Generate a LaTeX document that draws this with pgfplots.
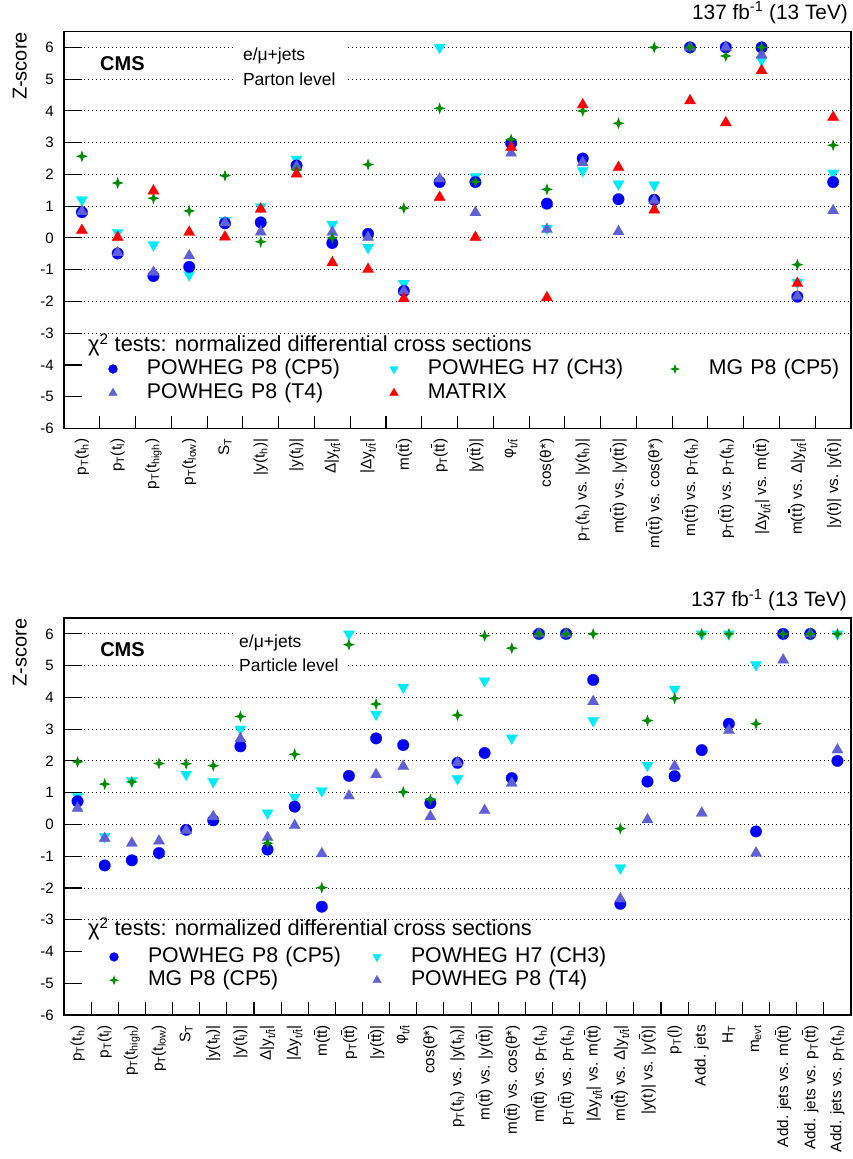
\documentclass[border=0pt]{standalone}
\usepackage{pgfplots}
\usepackage{pgfplotstable}
\pgfplotsset{compat=1.18}
\usepackage{fontspec}
\setmainfont{Liberation Sans}
\definecolor{cmsblue}{RGB}{0,0,250}
\definecolor{cmscyan}{RGB}{0,235,250}
\definecolor{cmsgreen}{RGB}{0,140,0}
\definecolor{cmsred}{RGB}{255,0,0}
\definecolor{cmspurple}{RGB}{95,95,215}
\pgfdeclareplotmark{fstar}{%
 \pgfpathmoveto{\pgfqpoint{0pt}{\pgfplotmarksize}}%
 \pgfpathlineto{\pgfqpoint{0.26\pgfplotmarksize}{0.26\pgfplotmarksize}}%
 \pgfpathlineto{\pgfqpoint{\pgfplotmarksize}{0pt}}%
 \pgfpathlineto{\pgfqpoint{0.26\pgfplotmarksize}{-0.26\pgfplotmarksize}}%
 \pgfpathlineto{\pgfqpoint{0pt}{-\pgfplotmarksize}}%
 \pgfpathlineto{\pgfqpoint{-0.26\pgfplotmarksize}{-0.26\pgfplotmarksize}}%
 \pgfpathlineto{\pgfqpoint{-\pgfplotmarksize}{0pt}}%
 \pgfpathlineto{\pgfqpoint{-0.26\pgfplotmarksize}{0.26\pgfplotmarksize}}%
 \pgfpathclose\pgfusepathqfill}
\newcommand{\sub}[1]{\textsubscript{#1}}
\newcommand{\tb}{\mbox{t\llap{\raisebox{0.8em}{\rule{0.28em}{0.07em}}}}}
\newcommand{\pT}{p\sub{T}}
\newcommand{\ttb}{t\tb}
\newcommand{\ytt}{y\sub{t/\tb}}
\newcommand{\fs}[1]{\fontsize{#1}{#1}\selectfont}
\pgfplotsset{
 sblue/.style={only marks, mark=*, mark size=5.8pt, color=cmsblue, mark options={solid,line width=0.2pt}},
 scyan/.style={only marks, mark=triangle*, mark size=6.5pt, color=cmscyan, mark options={solid,rotate=180,line width=0.2pt}},
 spurple/.style={only marks, mark=triangle*, mark size=6.5pt, color=cmspurple, mark options={solid,line width=0.2pt}},
 sred/.style={only marks, mark=triangle*, mark size=6.5pt, color=cmsred, mark options={solid,line width=0.2pt}},
 sgreen/.style={only marks, mark=fstar, mark size=6pt, color=cmsgreen, mark options={solid}},
 cmsaxis/.style={
  scale only axis, width=787pt, height=397pt,
  ymin=-6, ymax=6.5, ytick={-6,...,6},
  yticklabels={-6,-5,-4,-3,-2,-1,0,1,2,3,4,5,6},
  xtick pos=bottom, ytick pos=left,
  major tick length=18pt, minor tick length=13pt,
  major x tick style={draw=none},
  every tick/.style={black, line width=1.1pt},
  axis line style={line width=1.3pt},
  ymajorgrids, major grid style={black, line width=0.9pt, dash pattern=on 1.3pt off 2.7pt},
  yticklabel style={font=\fs{15}, inner sep=0pt, xshift=-10pt, anchor=east},
  xticklabel style={font=\fs{15.3}, inner sep=0pt, yshift=-10pt, rotate=90, anchor=east},
  legend cell align=left,
  legend image code/.code={\path[draw=none,fill=none] (0pt,-5pt) rectangle (44pt,5pt); \draw[##1] plot coordinates {(10pt,0pt)};},
 }
}
\pgfplotstableread{
x c b p g r
0.5 1.2 0.81 0.83 2.57 0.24
1.5 0.17 -0.49 -0.46 1.73 0.02
2.5 -0.22 -1.2 -1.08 1.25 1.48
3.5 -1.16 -0.91 -0.56 0.85 0.18
4.5 0.55 0.46 0.48 1.96 0.03
5.5 0.98 0.49 0.19 -0.12 0.91
6.5 2.48 2.28 2.25 2.14 2.01
7.5 0.43 -0.16 0.18 0.0 -0.78
8.5 -0.30 0.13 0.02 2.31 -0.99
9.5 -1.43 -1.67 -1.67 0.94 -1.91
10.5 6.0 1.76 1.86 4.08 1.28
11.5 1.93 1.76 0.80 1.77 0.02
12.5 2.95 2.98 2.67 3.1 2.85
13.5 0.30 1.08 0.27 1.53 -1.88
14.5 2.12 2.50 2.37 4.0 4.19
15.5 1.70 1.22 0.20 3.61 2.22
16.5 1.67 1.20 1.18 6.0 0.88
17.5 6.0 6.0 6.0 6.0 4.32
18.5 6.0 6.0 6.0 5.73 3.63
19.5 5.6 6.0 5.76 6.0 5.27
20.5 -1.40 -1.85 -1.83 -0.84 -1.43
21.5 2.04 1.76 0.86 2.92 3.80
}\toptab
\pgfplotstableread{
x c b p g
0.5 0.88 0.73 0.51 1.97
1.5 -0.38 -1.29 -0.44 1.27
2.5 1.38 -1.13 -0.59 1.34
3.5 -0.92 -0.90 -0.52 1.92
4.5 1.58 -0.17 -0.19 1.91
5.5 1.35 0.13 0.25 1.85
6.5 3.0 2.46 2.70 3.40
7.5 0.36 -0.79 -0.41 -0.59
8.5 0.86 0.56 -0.03 2.21
9.5 1.06 -2.59 -0.92 -1.99
10.5 6.0 1.53 0.90 5.66
11.5 3.47 2.71 1.57 3.79
12.5 4.32 2.50 1.83 1.02
13.5 0.72 0.67 0.25 0.78
14.5 1.44 1.94 1.95 3.44
15.5 4.52 2.25 0.44 5.94
16.5 2.72 1.46 1.30 5.55
17.5 6.0 6.0 6.0 6.0
18.5 6.0 6.0 6.0 6.0
19.5 3.27 4.55 3.87 6.0
20.5 -1.37 -2.50 -2.34 -0.13
21.5 1.86 1.35 0.15 3.27
22.5 4.26 1.52 1.83 3.97
23.5 6.0 2.34 0.36 6.0
24.5 6.0 3.17 2.96 6.0
25.5 5.03 -0.22 -0.90 3.17
26.5 6.0 6.0 5.18 6.0
27.5 6.0 6.0 6.0 6.0
28.5 6.0 2.0 2.35 6.0
}\bottab
\begin{document}
\begin{tikzpicture}
\useasboundingbox (0,0) rectangle (853pt,-1159pt);
% ---------------- top panel ----------------
\begin{axis}[cmsaxis, at={(64pt,-428.5pt)}, anchor=south west,
  xmin=0, xmax=22,
  xtick={0.5,1.5,...,21.5}, minor xtick={1,...,21},
  xticklabels={{\pT(t\sub{h})},{\pT(t\sub{l})},{\pT(t\sub{high})},{\pT(t\sub{low})},{S\sub{T}},{|y(t\sub{h})|},{|y(t\sub{l})|},{Δ|\ytt|},{|Δ\ytt|},{m(\ttb)},{\pT(\ttb)},{|y(\ttb)|},{φ\sub{t/\tb}},{cos(θ*)},{\pT(t\sub{h}) vs. |y(t\sub{h})|},{m(\ttb) vs. |y(\ttb)|},{m(\ttb) vs. cos(θ*)},{m(\ttb) vs. \pT(t\sub{h})},{\pT(\ttb) vs. \pT(t\sub{h})},{|Δ\ytt| vs. m(\ttb)},{m(\ttb) vs. Δ|\ytt|},{|y(t)| vs. |y(\tb)|}},
  legend columns=3,
  legend style={at={(axis cs:1.09,-3.796)}, anchor=north west, draw=none, fill=none, inner sep=0pt, outer sep=0pt, font=\fs{21.3}, row sep=3pt, column sep=0pt, nodes={inner sep=0pt, text height=16pt, text depth=5pt, text width=237pt, align=left}},
]
\fill[white] (axis cs:0.55,-3.1) rectangle (axis cs:21.95,-5.55);
\fill[white] (axis cs:4.78,6.30) rectangle (axis cs:7.91,4.60);
\addlegendimage{sblue, mark size=4.5pt}\addlegendentry{POWHEG P8 (CP5)}
\addlegendimage{scyan, mark size=5pt}\addlegendentry{POWHEG H7 (CH3)}
\addlegendimage{sgreen, mark size=5pt}\addlegendentry{MG P8 (CP5)}
\addlegendimage{spurple, mark size=5pt}\addlegendentry{POWHEG P8 (T4)}
\addlegendimage{sred, mark size=5pt}\addlegendentry{MATRIX}
\addplot[scyan, forget plot] table[x=x,y=c]{\toptab};
\addplot[sblue, forget plot] table[x=x,y=b]{\toptab};
\addplot[spurple, forget plot] table[x=x,y=p]{\toptab};
\addplot[sgreen, forget plot] table[x=x,y=g]{\toptab};
\addplot[sred, forget plot] table[x=x,y=r]{\toptab};
\node[anchor=west, font=\fs{21.8}, inner sep=0pt] at (axis cs:0.671,-3.371) {χ\textsuperscript{2} tests: normalized differential cross sections};
\node[anchor=west, font=\bfseries\fs{20}, inner sep=0pt] at (axis cs:1.006,5.48) {CMS};
\node[anchor=west, font=\fs{17.5}, inner sep=0pt] at (axis cs:5.0,5.734) {e/μ+jets};
\node[anchor=west, font=\fs{17.5}, inner sep=0pt] at (axis cs:5.0,5.01) {Parton level};
\end{axis}
\node[anchor=base east, font=\fs{20.8}, inner sep=0pt] at (848pt,-19.3pt) {137 fb\textsuperscript{-1} (13 TeV)};
\node[rotate=90, anchor=base east, font=\fs{20}, inner sep=0pt] at (26.7pt,-32pt) {Z-score};
% ---------------- bottom panel ----------------
\begin{axis}[cmsaxis, at={(64pt,-1015pt)}, anchor=south west,
  xmin=0, xmax=29,
  xtick={0.5,1.5,...,28.5}, minor xtick={1,...,28},
  xticklabels={{\pT(t\sub{h})},{\pT(t\sub{l})},{\pT(t\sub{high})},{\pT(t\sub{low})},{S\sub{T}},{|y(t\sub{h})|},{|y(t\sub{l})|},{Δ|\ytt|},{|Δ\ytt|},{m(\ttb)},{\pT(\ttb)},{|y(\ttb)|},{φ\sub{t/\tb}},{cos(θ*)},{\pT(t\sub{h}) vs. |y(t\sub{h})|},{m(\ttb) vs. |y(\ttb)|},{m(\ttb) vs. cos(θ*)},{m(\ttb) vs. \pT(t\sub{h})},{\pT(\ttb) vs. \pT(t\sub{h})},{|Δ\ytt| vs. m(\ttb)},{m(\ttb) vs. Δ|\ytt|},{|y(t)| vs. |y(\tb)|},{\pT(l)},{Add. jets},{H\sub{T}},{m\sub{evt}},{Add. jets vs. m(\ttb)},{Add. jets vs. \pT(\ttb)},{Add. jets vs. \pT(t\sub{h})}},
  legend columns=2,
  legend style={at={(axis cs:1.474,-3.84)}, anchor=north west, draw=none, fill=none, inner sep=0pt, outer sep=0pt, font=\fs{21.3}, row sep=2.3pt, column sep=0pt, nodes={inner sep=0pt, text height=16pt, text depth=5pt, text width=219pt, align=left}},
]
\fill[white] (axis cs:0.70,-3.1) rectangle (axis cs:28.95,-5.55);
\fill[white] (axis cs:6.30,6.30) rectangle (axis cs:10.43,4.60);
\addlegendimage{sblue, mark size=4.5pt}\addlegendentry{POWHEG P8 (CP5)}
\addlegendimage{scyan, mark size=5pt}\addlegendentry{POWHEG H7 (CH3)}
\addlegendimage{sgreen, mark size=5pt}\addlegendentry{MG P8 (CP5)}
\addlegendimage{spurple, mark size=5pt}\addlegendentry{POWHEG P8 (T4)}
\addplot[scyan, forget plot] table[x=x,y=c]{\bottab};
\addplot[sblue, forget plot] table[x=x,y=b]{\bottab};
\addplot[spurple, forget plot] table[x=x,y=p]{\bottab};
\addplot[sgreen, forget plot] table[x=x,y=g]{\bottab};
\node[anchor=west, font=\fs{21.8}, inner sep=0pt] at (axis cs:0.884,-3.289) {χ\textsuperscript{2} tests: normalized differential cross sections};
\node[anchor=west, font=\bfseries\fs{20}, inner sep=0pt] at (axis cs:1.33,5.50) {CMS};
\node[anchor=west, font=\fs{17.5}, inner sep=0pt] at (axis cs:6.45,5.72) {e/μ+jets};
\node[anchor=west, font=\fs{17.5}, inner sep=0pt] at (axis cs:6.45,5.0) {Particle level};
\end{axis}
\node[anchor=base east, font=\fs{20.8}, inner sep=0pt] at (847pt,-606.7pt) {137 fb\textsuperscript{-1} (13 TeV)};
\node[rotate=90, anchor=base east, font=\fs{20}, inner sep=0pt] at (26.7pt,-618.3pt) {Z-score};
\end{tikzpicture}
\end{document}
